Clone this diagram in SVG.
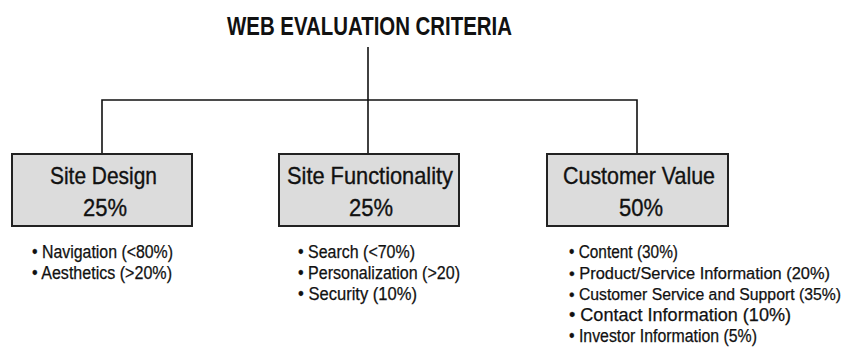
<svg xmlns="http://www.w3.org/2000/svg" width="845" height="349" viewBox="0 0 845 349">
<style>
  .title { font-family: "Liberation Sans", Arial, sans-serif; font-size: 26px; font-weight: bold; fill: #111; }
  .box { fill: #dcdcdc; stroke: #222; stroke-width: 2; }
  .head { font-family: "Liberation Sans", Arial, sans-serif; font-size: 24px; fill: #111; stroke: #111; stroke-width: 0.35; text-anchor: middle; }
  .item { font-family: "Liberation Sans", Arial, sans-serif; font-size: 17.5px; fill: #111; stroke: #111; stroke-width: 0.25; }
  .long { font-size: 16px; }
  .conn { stroke: #111; stroke-width: 1.6; fill: none; }
</style>
<rect width="845" height="349" fill="#ffffff"/>
<g id="title">
  <text class="title" x="227" y="35" textLength="285" lengthAdjust="spacingAndGlyphs">WEB EVALUATION CRITERIA</text>
</g>
<g id="connectors">
  <line class="conn" x1="368" y1="47" x2="368" y2="154"/>
  <polyline class="conn" points="102,154 102,100 637,100 637,154"/>
</g>
<g id="site-design">
  <rect class="box" x="12" y="154" width="180" height="72"/>
  <text class="head" x="103.5" y="184" textLength="107" lengthAdjust="spacingAndGlyphs">Site Design</text>
  <text class="head" x="105" y="216" textLength="44" lengthAdjust="spacingAndGlyphs">25%</text>
  <text class="item" x="32" y="258" textLength="141" lengthAdjust="spacingAndGlyphs">• Navigation (&lt;80%)</text>
  <text class="item" x="32" y="279" textLength="140" lengthAdjust="spacingAndGlyphs">• Aesthetics (&gt;20%)</text>
</g>
<g id="site-functionality">
  <rect class="box" x="279" y="154" width="180" height="72"/>
  <text class="head" x="370" y="184" textLength="166" lengthAdjust="spacingAndGlyphs">Site Functionality</text>
  <text class="head" x="371" y="216" textLength="44" lengthAdjust="spacingAndGlyphs">25%</text>
  <text class="item" x="298" y="258" textLength="117" lengthAdjust="spacingAndGlyphs">• Search (&lt;70%)</text>
  <text class="item" x="298" y="279" textLength="162" lengthAdjust="spacingAndGlyphs">• Personalization (&gt;20)</text>
  <text class="item" x="298" y="300" textLength="119" lengthAdjust="spacingAndGlyphs">• Security (10%)</text>
</g>
<g id="customer-value">
  <rect class="box" x="547" y="154" width="181" height="72"/>
  <text class="head" x="639" y="184" textLength="152" lengthAdjust="spacingAndGlyphs">Customer Value</text>
  <text class="head" x="641" y="216" textLength="44" lengthAdjust="spacingAndGlyphs">50%</text>
  <text class="item" x="569" y="258" textLength="109" lengthAdjust="spacingAndGlyphs">• Content (30%)</text>
  <text class="item long" x="569" y="279" textLength="261" lengthAdjust="spacingAndGlyphs">• Product/Service Information (20%)</text>
  <text class="item long" x="569" y="300" textLength="272" lengthAdjust="spacingAndGlyphs">• Customer Service and Support (35%)</text>
  <text class="item" x="569" y="321" textLength="222" lengthAdjust="spacingAndGlyphs">• Contact Information (10%)</text>
  <text class="item" x="569" y="342" textLength="188" lengthAdjust="spacingAndGlyphs">• Investor Information (5%)</text>
</g>
</svg>
